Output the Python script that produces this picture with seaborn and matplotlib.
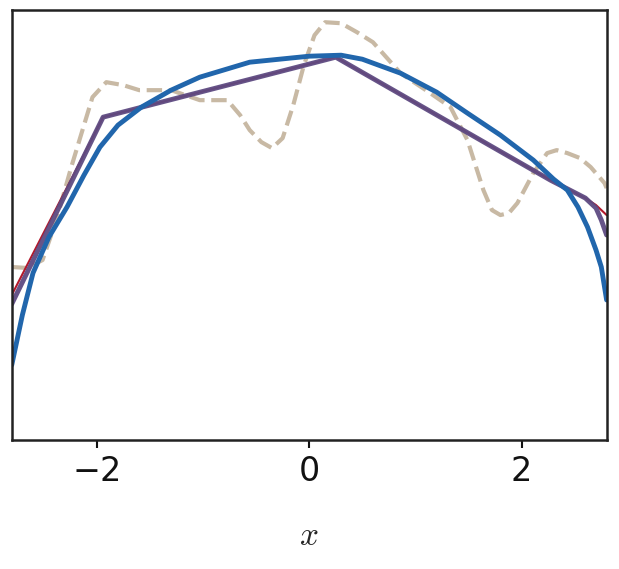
import numpy as np
import matplotlib
matplotlib.use("Agg")
import matplotlib.pyplot as plt
import seaborn as sns

sns.set_theme(style="ticks")
plt.rcParams['font.family'] = ['DejaVu Sans']
plt.rcParams['mathtext.fontset'] = 'cm'
plt.rcParams['lines.solid_joinstyle'] = 'round'

# piecewise fit (red + purple)
pw_x = [-2.8, -1.94, 0.25, 2.27, 2.6, 2.7, 2.75, 2.8]
pw_y = [1.45, 3.23, 3.83, 2.60, 2.42, 2.35, 2.30, 2.25]
pw2_y = [1.36, 3.23, 3.83, 2.60, 2.42, 2.32, 2.20, 2.05]
# smooth blue curve
bl_x = [-2.8, -2.7, -2.6, -2.45, -2.28, -2.12, -1.97, -1.8, -1.58, -1.3, -1.03, -0.56, 0.0, 0.3, 0.5, 0.86, 1.2, 1.49, 1.8, 2.11, 2.3, 2.43, 2.53, 2.62, 2.7, 2.75, 2.8]
bl_y = [0.75, 1.25, 1.67, 2.03, 2.33, 2.65, 2.93, 3.15, 3.33, 3.50, 3.63, 3.78, 3.84, 3.85, 3.81, 3.67, 3.48, 3.27, 3.05, 2.80, 2.61, 2.50, 2.33, 2.13, 1.90, 1.73, 1.40]
# noisy dashed truth
ds_x = [-2.8, -2.65, -2.51, -2.38, -2.24, -2.12, -2.04, -1.91, -1.75, -1.6, -1.3, -1.03, -0.77, -0.65, -0.56, -0.45, -0.35, -0.25, -0.15, -0.05, 0.05, 0.15, 0.3, 0.45, 0.6, 0.86, 1.14, 1.33, 1.49, 1.64, 1.72, 1.80, 1.88, 1.96, 2.11, 2.24, 2.33, 2.43, 2.55, 2.65, 2.78, 2.8]
ds_y = [1.73, 1.72, 1.80, 2.20, 2.73, 3.15, 3.43, 3.58, 3.55, 3.50, 3.50, 3.40, 3.40, 3.25, 3.10, 2.98, 2.92, 3.02, 3.35, 3.75, 4.05, 4.18, 4.17, 4.08, 3.98, 3.67, 3.47, 3.33, 3.00, 2.50, 2.30, 2.25, 2.27, 2.37, 2.67, 2.87, 2.90, 2.87, 2.82, 2.73, 2.57, 2.52]

fig, ax = plt.subplots(figsize=(6.19, 5.69), dpi=100)
fig.subplots_adjust(left=0.019, right=0.98, top=0.982, bottom=0.227)
sns.lineplot(x=ds_x, y=ds_y, ax=ax, color="#c8b9a4", lw=3, linestyle="--", sort=False)
sns.lineplot(x=pw_x, y=pw_y, ax=ax, color="#b2182b", lw=1.5, sort=False)
sns.lineplot(x=pw_x, y=pw2_y, ax=ax, color="#5e4b82", lw=3.5, alpha=0.95, sort=False)
sns.lineplot(x=bl_x, y=bl_y, ax=ax, color="#2166ac", lw=3.5, sort=False)
ax.set_xlim(-2.8, 2.8)
ax.set_ylim(0, 4.3)
ax.set_yticks([])
ax.set_xticks([-2, 0, 2])
ax.tick_params(axis='x', labelsize=24, length=6, width=1.5, pad=5, colors="#111111")
for s in ax.spines.values():
    s.set_linewidth(1.8)
    s.set_color("#222222")
ax.set_xlabel("$x$", fontsize=24, labelpad=22)
fig.savefig("out.png")
